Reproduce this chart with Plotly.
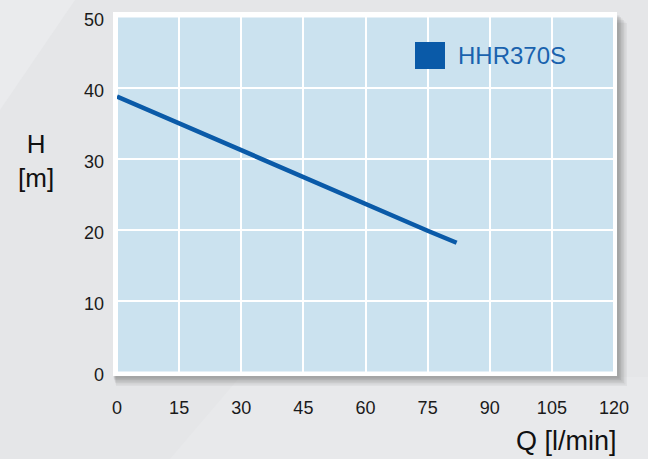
import plotly.graph_objects as go

# Data
q_values = [0, 15, 30, 45, 60, 75, 82]
h_values = [38.8, 35.0, 31.2, 27.4, 23.6, 19.9, 18.2]
series_name = "HHR370S"
x_ticks = [0, 15, 30, 45, 60, 75, 90, 105, 120]
y_ticks = [0, 10, 20, 30, 40, 50]

W, H = 648, 459
L, R, T, B = 117, 34, 17, 87
pw, ph = W - L - R, H - T - B


def px_x(p):
    return (p - L) / pw


def px_y(p):
    return (H - B - p) / ph


LINE_COLOR = "#0a5aa8"
FONT = "Liberation Sans, Arial, sans-serif"

fig = go.Figure()
fig.add_trace(go.Scatter(
    x=q_values, y=h_values, mode="lines",
    line=dict(color=LINE_COLOR, width=4.5),
    name=series_name, showlegend=False, hoverinfo="skip",
))

shapes = []
# subtle background facets
shapes.append(dict(type="path", xref="paper", yref="paper", layer="below",
                   path=f"M {px_x(0)},{px_y(0)} L {px_x(75)},{px_y(0)} L {px_x(0)},{px_y(110)} Z",
                   fillcolor="#eaebed", line=dict(width=0)))
shapes.append(dict(type="path", xref="paper", yref="paper", layer="below",
                   path=f"M {px_x(240)},{px_y(377)} L {px_x(170)},{px_y(459)} L {px_x(648)},{px_y(459)} L {px_x(648)},{px_y(377)} Z",
                   fillcolor="#e8e9eb", line=dict(width=0)))
# drop shadow
for i, op in enumerate([0.06, 0.06, 0.07, 0.08, 0.09, 0.1]):
    off = 10 - i * 1.5
    shapes.append(dict(type="rect", xref="paper", yref="paper", layer="below",
                       x0=px_x(113 + off * 0.3), x1=px_x(617 + off),
                       y0=px_y(376 + off), y1=px_y(13 + off),
                       fillcolor=f"rgba(60,60,60,{op})", line=dict(width=0)))
# white frame
shapes.append(dict(type="rect", xref="paper", yref="paper", layer="below",
                   x0=px_x(113), x1=px_x(617), y0=px_y(376), y1=px_y(12),
                   fillcolor="white", line=dict(width=0)))
# blue plot area
shapes.append(dict(type="rect", xref="paper", yref="paper", layer="below",
                   x0=px_x(118), x1=px_x(613), y0=px_y(371.5), y1=px_y(17.5),
                   fillcolor="#cbe2ef", line=dict(width=0)))
# legend swatch
shapes.append(dict(type="rect", xref="paper", yref="paper", layer="above",
                   x0=px_x(415), x1=px_x(445), y0=px_y(69), y1=px_y(42),
                   fillcolor=LINE_COLOR, line=dict(width=0)))

annotations = [
    dict(text=series_name, xref="paper", yref="paper", x=px_x(456), y=px_y(56),
         xanchor="left", yanchor="middle", showarrow=False,
         font=dict(family=FONT, size=24, color="#1a62ae")),
    dict(text="H<br>[m]", xref="paper", yref="paper", x=px_x(36), y=px_y(161),
         xanchor="center", yanchor="middle", showarrow=False, align="center",
         font=dict(family=FONT, size=26, color="#111111")),
    dict(text="Q [l/min]", xref="paper", yref="paper", x=px_x(619), y=px_y(441),
         xanchor="right", yanchor="middle", showarrow=False,
         font=dict(family=FONT, size=27, color="#111111")),
]

fig.update_layout(
    width=W, height=H,
    margin=dict(l=L, r=R, t=T, b=B, pad=0, autoexpand=False),
    paper_bgcolor="#e5e6e8",
    plot_bgcolor="rgba(0,0,0,0)",
    shapes=shapes,
    annotations=annotations,
    font=dict(family=FONT, size=18, color="#1a1a1a"),
    xaxis=dict(range=[0, 120], tickvals=x_ticks, ticktext=[str(v) for v in x_ticks],
               showgrid=True, gridcolor="white", gridwidth=2, zeroline=False,
               showline=False, ticks="", ticklabelstandoff=23, fixedrange=True,
               automargin=False),
    yaxis=dict(range=[0, 50], tickvals=y_ticks, ticktext=[str(v) for v in y_ticks],
               showgrid=True, gridcolor="white", gridwidth=2, zeroline=False,
               showline=False, ticks="", ticklabelstandoff=12, ticklabelshift=3,
               fixedrange=True, automargin=False),
)

fig.write_html(
    "out.html",
    config={"displayModeBar": False},
    post_script="document.body.style.margin='0';document.body.style.padding='0';"
                "document.documentElement.style.margin='0';",
)
